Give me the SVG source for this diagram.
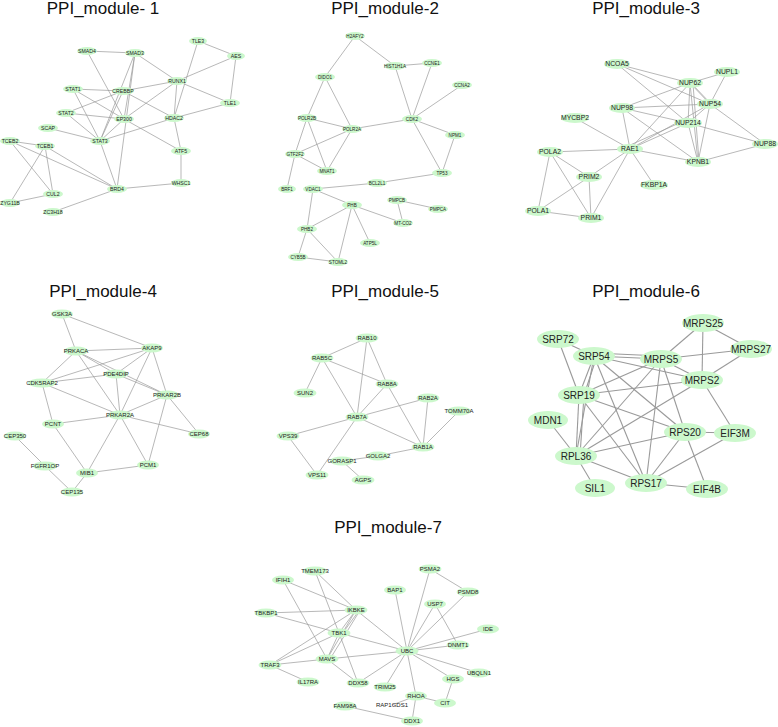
<svg xmlns="http://www.w3.org/2000/svg" width="778" height="727" viewBox="0 0 778 727">
<style>
.bg{fill:#fff}
.title{font-family:"Liberation Sans",Arial,sans-serif;font-size:17px;fill:#111;text-anchor:middle}
.edges line{stroke:#9a9a9a;stroke-width:0.7}
.e6 line{stroke-width:1.1}
ellipse{fill:#ccf8cc}
text.l{font-family:"Liberation Sans",Arial,sans-serif;fill:#222;text-anchor:middle}
.m1 text.l{font-size:5.2px}
.m2 text.l{font-size:4.6px}
.m3 text.l{font-size:6.8px}
.m4 text.l{font-size:6px}
.m5 text.l{font-size:6px}
.m6 text.l{font-size:10px}
.m7 text.l{font-size:6px}
</style>
<rect class="bg" x="0" y="0" width="778" height="727"/>
<text class="title" x="103" y="14">PPI_module- 1</text>
<text class="title" x="385" y="14">PPI_module-2</text>
<text class="title" x="646" y="14">PPI_module-3</text>
<text class="title" x="103" y="297">PPI_module-4</text>
<text class="title" x="385" y="297">PPI_module-5</text>
<text class="title" x="646" y="297">PPI_module-6</text>
<text class="title" x="388" y="533">PPI_module-7</text>

<g id="connectors" class="edges">
<g id="edges-m1">
<line x1="87" y1="51" x2="135" y2="53"/>
<line x1="87" y1="51" x2="124" y2="119"/>
<line x1="135" y1="53" x2="177" y2="81"/>
<line x1="135" y1="53" x2="100" y2="141"/>
<line x1="135" y1="53" x2="124" y2="119"/>
<line x1="135" y1="53" x2="117" y2="189"/>
<line x1="73" y1="89" x2="123" y2="91"/>
<line x1="73" y1="89" x2="124" y2="119"/>
<line x1="73" y1="89" x2="100" y2="141"/>
<line x1="66" y1="113" x2="123" y2="91"/>
<line x1="66" y1="113" x2="124" y2="119"/>
<line x1="66" y1="113" x2="100" y2="141"/>
<line x1="48" y1="128" x2="100" y2="141"/>
<line x1="123" y1="91" x2="100" y2="141"/>
<line x1="123" y1="91" x2="174" y2="118"/>
<line x1="123" y1="91" x2="177" y2="81"/>
<line x1="124" y1="119" x2="100" y2="141"/>
<line x1="124" y1="119" x2="177" y2="81"/>
<line x1="124" y1="119" x2="181" y2="151"/>
<line x1="177" y1="81" x2="230" y2="103"/>
<line x1="177" y1="81" x2="236" y2="56"/>
<line x1="177" y1="81" x2="174" y2="118"/>
<line x1="198" y1="41" x2="236" y2="56"/>
<line x1="198" y1="41" x2="174" y2="118"/>
<line x1="236" y1="56" x2="230" y2="103"/>
<line x1="230" y1="103" x2="174" y2="118"/>
<line x1="174" y1="118" x2="100" y2="141"/>
<line x1="174" y1="118" x2="181" y2="151"/>
<line x1="181" y1="151" x2="181" y2="183"/>
<line x1="181" y1="183" x2="117" y2="189"/>
<line x1="117" y1="189" x2="100" y2="141"/>
<line x1="117" y1="189" x2="45" y2="146"/>
<line x1="117" y1="189" x2="10" y2="141"/>
<line x1="117" y1="189" x2="53" y2="212"/>
<line x1="10" y1="141" x2="45" y2="146"/>
<line x1="10" y1="141" x2="53" y2="194"/>
<line x1="45" y1="146" x2="53" y2="194"/>
<line x1="45" y1="146" x2="10" y2="203"/>
<line x1="10" y1="203" x2="53" y2="194"/>
</g>
<g id="edges-m2">
<line x1="355" y1="36" x2="325" y2="77"/>
<line x1="355" y1="36" x2="395" y2="66"/>
<line x1="395" y1="66" x2="432" y2="63"/>
<line x1="395" y1="66" x2="412" y2="119"/>
<line x1="432" y1="63" x2="412" y2="119"/>
<line x1="462" y1="85" x2="412" y2="119"/>
<line x1="412" y1="119" x2="352" y2="129"/>
<line x1="412" y1="119" x2="455" y2="135"/>
<line x1="412" y1="119" x2="442" y2="173"/>
<line x1="455" y1="135" x2="442" y2="173"/>
<line x1="442" y1="173" x2="377" y2="183"/>
<line x1="377" y1="183" x2="313" y2="189"/>
<line x1="325" y1="77" x2="307" y2="118"/>
<line x1="325" y1="77" x2="352" y2="129"/>
<line x1="307" y1="118" x2="352" y2="129"/>
<line x1="307" y1="118" x2="295" y2="154"/>
<line x1="307" y1="118" x2="327" y2="171"/>
<line x1="352" y1="129" x2="295" y2="154"/>
<line x1="352" y1="129" x2="327" y2="171"/>
<line x1="295" y1="154" x2="327" y2="171"/>
<line x1="295" y1="154" x2="287" y2="189"/>
<line x1="313" y1="189" x2="352" y2="205"/>
<line x1="313" y1="189" x2="307" y2="229"/>
<line x1="352" y1="205" x2="307" y2="229"/>
<line x1="352" y1="205" x2="403" y2="223"/>
<line x1="352" y1="205" x2="370" y2="243"/>
<line x1="352" y1="205" x2="338" y2="262"/>
<line x1="307" y1="229" x2="338" y2="262"/>
<line x1="307" y1="229" x2="298" y2="257"/>
<line x1="298" y1="257" x2="338" y2="262"/>
<line x1="397" y1="200" x2="438" y2="209"/>
<line x1="397" y1="200" x2="403" y2="223"/>
</g>
<g id="edges-m3">
<line x1="617" y1="64" x2="690" y2="83"/>
<line x1="617" y1="64" x2="710" y2="104"/>
<line x1="617" y1="64" x2="688" y2="123"/>
<line x1="727" y1="72" x2="690" y2="83"/>
<line x1="727" y1="72" x2="710" y2="104"/>
<line x1="690" y1="83" x2="710" y2="104"/>
<line x1="692" y1="84" x2="712" y2="105"/>
<line x1="690" y1="83" x2="622" y2="108"/>
<line x1="690" y1="83" x2="688" y2="123"/>
<line x1="690" y1="83" x2="698" y2="162"/>
<line x1="693" y1="84" x2="699" y2="161"/>
<line x1="690" y1="83" x2="630" y2="149"/>
<line x1="622" y1="108" x2="710" y2="104"/>
<line x1="622" y1="108" x2="688" y2="123"/>
<line x1="622" y1="108" x2="630" y2="149"/>
<line x1="622" y1="108" x2="698" y2="162"/>
<line x1="710" y1="104" x2="688" y2="123"/>
<line x1="710" y1="104" x2="698" y2="162"/>
<line x1="710" y1="104" x2="765" y2="144"/>
<line x1="710" y1="104" x2="630" y2="149"/>
<line x1="688" y1="123" x2="630" y2="149"/>
<line x1="686" y1="120" x2="628" y2="146"/>
<line x1="688" y1="123" x2="765" y2="144"/>
<line x1="688" y1="123" x2="698" y2="162"/>
<line x1="630" y1="149" x2="698" y2="162"/>
<line x1="765" y1="144" x2="698" y2="162"/>
<line x1="630" y1="149" x2="575" y2="118"/>
<line x1="630" y1="149" x2="550" y2="152"/>
<line x1="630" y1="149" x2="589" y2="177"/>
<line x1="630" y1="149" x2="591" y2="218"/>
<line x1="630" y1="149" x2="654" y2="185"/>
<line x1="550" y1="152" x2="589" y2="177"/>
<line x1="550" y1="152" x2="591" y2="218"/>
<line x1="550" y1="152" x2="538" y2="211"/>
<line x1="538" y1="211" x2="589" y2="177"/>
<line x1="538" y1="211" x2="591" y2="218"/>
<line x1="589" y1="177" x2="591" y2="218"/>
</g>
<g id="edges-m4">
<line x1="62" y1="314" x2="76" y2="351"/>
<line x1="62" y1="314" x2="152" y2="348"/>
<line x1="76" y1="351" x2="152" y2="348"/>
<line x1="76" y1="351" x2="42" y2="383"/>
<line x1="76" y1="351" x2="116" y2="374"/>
<line x1="76" y1="351" x2="167" y2="395"/>
<line x1="76" y1="351" x2="120" y2="415"/>
<line x1="152" y1="348" x2="42" y2="383"/>
<line x1="152" y1="348" x2="116" y2="374"/>
<line x1="152" y1="348" x2="167" y2="395"/>
<line x1="152" y1="348" x2="120" y2="415"/>
<line x1="42" y1="383" x2="116" y2="374"/>
<line x1="42" y1="383" x2="120" y2="415"/>
<line x1="42" y1="383" x2="53" y2="424"/>
<line x1="116" y1="374" x2="120" y2="415"/>
<line x1="116" y1="374" x2="167" y2="395"/>
<line x1="167" y1="395" x2="120" y2="415"/>
<line x1="167" y1="395" x2="199" y2="434"/>
<line x1="167" y1="395" x2="148" y2="465"/>
<line x1="120" y1="415" x2="53" y2="424"/>
<line x1="120" y1="415" x2="199" y2="434"/>
<line x1="120" y1="415" x2="87" y2="473"/>
<line x1="120" y1="415" x2="148" y2="465"/>
<line x1="53" y1="424" x2="87" y2="473"/>
<line x1="87" y1="473" x2="148" y2="465"/>
<line x1="87" y1="473" x2="72" y2="492"/>
<line x1="15" y1="436" x2="45" y2="466"/>
<line x1="45" y1="466" x2="72" y2="492"/>
</g>
<g id="edges-m5">
<line x1="367" y1="338" x2="322" y2="358"/>
<line x1="367" y1="338" x2="357" y2="417"/>
<line x1="367" y1="338" x2="387" y2="384"/>
<line x1="322" y1="358" x2="387" y2="384"/>
<line x1="322" y1="358" x2="357" y2="417"/>
<line x1="322" y1="358" x2="305" y2="393"/>
<line x1="387" y1="384" x2="357" y2="417"/>
<line x1="387" y1="384" x2="423" y2="447"/>
<line x1="357" y1="417" x2="428" y2="398"/>
<line x1="357" y1="417" x2="423" y2="447"/>
<line x1="357" y1="417" x2="288" y2="436"/>
<line x1="357" y1="417" x2="317" y2="475"/>
<line x1="428" y1="398" x2="423" y2="447"/>
<line x1="459" y1="411" x2="423" y2="447"/>
<line x1="423" y1="447" x2="378" y2="456"/>
<line x1="378" y1="456" x2="342" y2="461"/>
<line x1="342" y1="461" x2="363" y2="480"/>
<line x1="288" y1="436" x2="317" y2="475"/>
</g>
<g id="edges-m6" class="e6">
<line x1="703" y1="323" x2="661" y2="359"/>
<line x1="703" y1="323" x2="751" y2="349"/>
<line x1="703" y1="323" x2="702" y2="380"/>
<line x1="751" y1="349" x2="661" y2="359"/>
<line x1="751" y1="349" x2="702" y2="380"/>
<line x1="558" y1="339" x2="594" y2="356"/>
<line x1="558" y1="339" x2="579" y2="395"/>
<line x1="594" y1="356" x2="661" y2="359"/>
<line x1="594" y1="353" x2="661" y2="356"/>
<line x1="594" y1="356" x2="702" y2="380"/>
<line x1="594" y1="356" x2="579" y2="395"/>
<line x1="597" y1="356" x2="584" y2="395"/>
<line x1="594" y1="356" x2="576" y2="456"/>
<line x1="594" y1="356" x2="646" y2="483"/>
<line x1="594" y1="356" x2="685" y2="432"/>
<line x1="661" y1="359" x2="579" y2="395"/>
<line x1="661" y1="359" x2="702" y2="380"/>
<line x1="661" y1="359" x2="576" y2="456"/>
<line x1="661" y1="359" x2="685" y2="432"/>
<line x1="661" y1="359" x2="646" y2="483"/>
<line x1="702" y1="380" x2="579" y2="395"/>
<line x1="702" y1="380" x2="576" y2="456"/>
<line x1="702" y1="380" x2="735" y2="433"/>
<line x1="579" y1="395" x2="576" y2="456"/>
<line x1="584" y1="395" x2="580" y2="456"/>
<line x1="579" y1="395" x2="685" y2="432"/>
<line x1="579" y1="395" x2="646" y2="483"/>
<line x1="548" y1="420" x2="576" y2="456"/>
<line x1="685" y1="432" x2="735" y2="433"/>
<line x1="685" y1="432" x2="576" y2="456"/>
<line x1="685" y1="432" x2="646" y2="483"/>
<line x1="685" y1="432" x2="707" y2="489"/>
<line x1="735" y1="433" x2="646" y2="483"/>
<line x1="576" y1="456" x2="646" y2="483"/>
<line x1="576" y1="456" x2="595" y2="488"/>
<line x1="646" y1="483" x2="707" y2="489"/>
</g>
<g id="edges-m7">
<line x1="315" y1="571" x2="356" y2="610"/>
<line x1="315" y1="571" x2="339" y2="633"/>
<line x1="283" y1="580" x2="356" y2="610"/>
<line x1="283" y1="580" x2="327" y2="659"/>
<line x1="266" y1="613" x2="356" y2="610"/>
<line x1="266" y1="613" x2="339" y2="633"/>
<line x1="356" y1="610" x2="339" y2="633"/>
<line x1="358" y1="612" x2="342" y2="634"/>
<line x1="356" y1="610" x2="327" y2="659"/>
<line x1="359" y1="612" x2="330" y2="659"/>
<line x1="356" y1="610" x2="270" y2="665"/>
<line x1="356" y1="610" x2="407" y2="651"/>
<line x1="339" y1="633" x2="327" y2="659"/>
<line x1="339" y1="633" x2="270" y2="665"/>
<line x1="339" y1="633" x2="358" y2="683"/>
<line x1="339" y1="633" x2="407" y2="651"/>
<line x1="270" y1="665" x2="327" y2="659"/>
<line x1="270" y1="665" x2="308" y2="682"/>
<line x1="327" y1="659" x2="407" y2="651"/>
<line x1="327" y1="659" x2="358" y2="683"/>
<line x1="358" y1="683" x2="407" y2="651"/>
<line x1="385" y1="687" x2="407" y2="651"/>
<line x1="407" y1="651" x2="416" y2="696"/>
<line x1="416" y1="696" x2="412" y2="721"/>
<line x1="392" y1="705" x2="416" y2="696"/>
<line x1="416" y1="696" x2="445" y2="703"/>
<line x1="445" y1="703" x2="453" y2="679"/>
<line x1="453" y1="679" x2="407" y2="651"/>
<line x1="479" y1="673" x2="407" y2="651"/>
<line x1="407" y1="651" x2="488" y2="629"/>
<line x1="407" y1="651" x2="458" y2="645"/>
<line x1="407" y1="651" x2="435" y2="604"/>
<line x1="407" y1="651" x2="430" y2="569"/>
<line x1="407" y1="651" x2="468" y2="592"/>
<line x1="407" y1="651" x2="395" y2="590"/>
<line x1="430" y1="569" x2="468" y2="592"/>
<line x1="435" y1="604" x2="458" y2="645"/>
<line x1="345" y1="706" x2="412" y2="721"/>
</g>
</g>

<g id="module-1" class="m1">
<g id="n-SMAD4"><ellipse cx="87" cy="51" rx="10" ry="4"/><text class="l" x="87" y="52.8">SMAD4</text></g>
<g id="n-SMAD3"><ellipse cx="135" cy="53" rx="10" ry="4"/><text class="l" x="135" y="54.8">SMAD3</text></g>
<g id="n-TLE3"><ellipse cx="198" cy="41" rx="9" ry="4"/><text class="l" x="198" y="42.8">TLE3</text></g>
<g id="n-AES"><ellipse cx="236" cy="56" rx="9" ry="4"/><text class="l" x="236" y="57.8">AES</text></g>
<g id="n-RUNX1"><ellipse cx="177" cy="81" rx="10" ry="4"/><text class="l" x="177" y="82.8">RUNX1</text></g>
<g id="n-STAT1"><ellipse cx="73" cy="89" rx="10" ry="4"/><text class="l" x="73" y="90.8">STAT1</text></g>
<g id="n-CREBBP"><ellipse cx="123" cy="91" rx="11" ry="4"/><text class="l" x="123" y="92.8">CREBBP</text></g>
<g id="n-TLE1"><ellipse cx="230" cy="103" rx="10" ry="4"/><text class="l" x="230" y="104.8">TLE1</text></g>
<g id="n-STAT2"><ellipse cx="66" cy="113" rx="10" ry="4"/><text class="l" x="66" y="114.8">STAT2</text></g>
<g id="n-EP300"><ellipse cx="124" cy="119" rx="10" ry="4"/><text class="l" x="124" y="120.8">EP300</text></g>
<g id="n-HDAC2"><ellipse cx="174" cy="118" rx="10" ry="4"/><text class="l" x="174" y="119.8">HDAC2</text></g>
<g id="n-SCAP"><ellipse cx="48" cy="128" rx="10" ry="4"/><text class="l" x="48" y="129.8">SCAP</text></g>
<g id="n-TCEB2"><ellipse cx="10" cy="141" rx="10" ry="4"/><text class="l" x="10" y="142.8">TCEB2</text></g>
<g id="n-TCEB1"><ellipse cx="45" cy="146" rx="10" ry="4"/><text class="l" x="45" y="147.8">TCEB1</text></g>
<g id="n-STAT3"><ellipse cx="100" cy="141" rx="10" ry="4"/><text class="l" x="100" y="142.8">STAT3</text></g>
<g id="n-ATF5"><ellipse cx="181" cy="151" rx="10" ry="4"/><text class="l" x="181" y="152.8">ATF5</text></g>
<g id="n-WHSC1"><ellipse cx="181" cy="183" rx="10" ry="4"/><text class="l" x="181" y="184.8">WHSC1</text></g>
<g id="n-BRD4"><ellipse cx="117" cy="189" rx="10" ry="4"/><text class="l" x="117" y="190.8">BRD4</text></g>
<g id="n-CUL2"><ellipse cx="53" cy="194" rx="10" ry="4"/><text class="l" x="53" y="195.8">CUL2</text></g>
<g id="n-ZYG11B"><ellipse cx="10" cy="203" rx="10" ry="4"/><text class="l" x="10" y="204.8">ZYG11B</text></g>
<g id="n-ZC3H18"><ellipse cx="53" cy="212" rx="10" ry="4"/><text class="l" x="53" y="213.8">ZC3H18</text></g>
</g>

<g id="module-2" class="m2">
<g id="n-H2AFY2"><ellipse cx="355" cy="36" rx="10" ry="4"/><text class="l" x="355" y="37.6">H2AFY2</text></g>
<g id="n-HIST1H1A"><ellipse cx="395" cy="66" rx="11" ry="4"/><text class="l" x="395" y="67.6">HIST1H1A</text></g>
<g id="n-CCNE1"><ellipse cx="432" cy="63" rx="10" ry="4"/><text class="l" x="432" y="64.6">CCNE1</text></g>
<g id="n-DIDO1"><ellipse cx="325" cy="77" rx="10" ry="4"/><text class="l" x="325" y="78.6">DIDO1</text></g>
<g id="n-CCNA2"><ellipse cx="462" cy="85" rx="10" ry="4"/><text class="l" x="462" y="86.6">CCNA2</text></g>
<g id="n-POLR2B"><ellipse cx="307" cy="118" rx="10" ry="4"/><text class="l" x="307" y="119.6">POLR2B</text></g>
<g id="n-CDK2"><ellipse cx="412" cy="119" rx="10" ry="4"/><text class="l" x="412" y="120.6">CDK2</text></g>
<g id="n-POLR2A"><ellipse cx="352" cy="129" rx="10" ry="4"/><text class="l" x="352" y="130.6">POLR2A</text></g>
<g id="n-NPM1"><ellipse cx="455" cy="135" rx="10" ry="4"/><text class="l" x="455" y="136.6">NPM1</text></g>
<g id="n-GTF2F2"><ellipse cx="295" cy="154" rx="10" ry="4"/><text class="l" x="295" y="155.6">GTF2F2</text></g>
<g id="n-MNAT1"><ellipse cx="327" cy="171" rx="10" ry="4"/><text class="l" x="327" y="172.6">MNAT1</text></g>
<g id="n-TP53"><ellipse cx="442" cy="173" rx="10" ry="4"/><text class="l" x="442" y="174.6">TP53</text></g>
<g id="n-BCL2L1"><ellipse cx="377" cy="183" rx="10" ry="4"/><text class="l" x="377" y="184.6">BCL2L1</text></g>
<g id="n-BRF1"><ellipse cx="287" cy="189" rx="9" ry="4"/><text class="l" x="287" y="190.6">BRF1</text></g>
<g id="n-VDAC1"><ellipse cx="313" cy="189" rx="10" ry="4"/><text class="l" x="313" y="190.6">VDAC1</text></g>
<g id="n-PHB"><ellipse cx="352" cy="205" rx="10" ry="4"/><text class="l" x="352" y="206.6">PHB</text></g>
<g id="n-PMPCB"><ellipse cx="397" cy="200" rx="10" ry="4"/><text class="l" x="397" y="201.6">PMPCB</text></g>
<g id="n-PMPCA"><ellipse cx="438" cy="209" rx="10" ry="4"/><text class="l" x="438" y="210.6">PMPCA</text></g>
<g id="n-MT-CO2"><ellipse cx="403" cy="223" rx="10" ry="4"/><text class="l" x="403" y="224.6">MT-CO2</text></g>
<g id="n-PHB2"><ellipse cx="307" cy="229" rx="10" ry="4"/><text class="l" x="307" y="230.6">PHB2</text></g>
<g id="n-ATP5L"><ellipse cx="370" cy="243" rx="10" ry="4"/><text class="l" x="370" y="244.6">ATP5L</text></g>
<g id="n-CYB5B"><ellipse cx="298" cy="257" rx="10" ry="4"/><text class="l" x="298" y="258.6">CYB5B</text></g>
<g id="n-STOML2"><ellipse cx="338" cy="262" rx="10" ry="4"/><text class="l" x="338" y="263.6">STOML2</text></g>
</g>

<g id="module-3" class="m3">
<g id="n-NCOA5"><ellipse cx="617" cy="64" rx="13" ry="5"/><text class="l" x="617" y="66.4">NCOA5</text></g>
<g id="n-NUPL1"><ellipse cx="727" cy="72" rx="13" ry="5"/><text class="l" x="727" y="74.4">NUPL1</text></g>
<g id="n-NUP62"><ellipse cx="690" cy="83" rx="13" ry="5"/><text class="l" x="690" y="85.4">NUP62</text></g>
<g id="n-NUP98"><ellipse cx="622" cy="108" rx="13" ry="5"/><text class="l" x="622" y="110.4">NUP98</text></g>
<g id="n-NUP54"><ellipse cx="710" cy="104" rx="13" ry="5"/><text class="l" x="710" y="106.4">NUP54</text></g>
<g id="n-MYCBP2"><ellipse cx="575" cy="118" rx="14" ry="5"/><text class="l" x="575" y="120.4">MYCBP2</text></g>
<g id="n-NUP214"><ellipse cx="688" cy="123" rx="14" ry="5"/><text class="l" x="688" y="125.4">NUP214</text></g>
<g id="n-NUP88"><ellipse cx="765" cy="144" rx="13" ry="5"/><text class="l" x="765" y="146.4">NUP88</text></g>
<g id="n-POLA2"><ellipse cx="550" cy="152" rx="13" ry="5"/><text class="l" x="550" y="154.4">POLA2</text></g>
<g id="n-RAE1"><ellipse cx="630" cy="149" rx="13" ry="5"/><text class="l" x="630" y="151.4">RAE1</text></g>
<g id="n-KPNB1"><ellipse cx="698" cy="162" rx="13" ry="5"/><text class="l" x="698" y="164.4">KPNB1</text></g>
<g id="n-PRIM2"><ellipse cx="589" cy="177" rx="13" ry="5"/><text class="l" x="589" y="179.4">PRIM2</text></g>
<g id="n-FKBP1A"><ellipse cx="654" cy="185" rx="14" ry="5"/><text class="l" x="654" y="187.4">FKBP1A</text></g>
<g id="n-POLA1"><ellipse cx="538" cy="211" rx="13" ry="5"/><text class="l" x="538" y="213.4">POLA1</text></g>
<g id="n-PRIM1"><ellipse cx="591" cy="218" rx="13" ry="5"/><text class="l" x="591" y="220.4">PRIM1</text></g>
</g>

<g id="module-4" class="m4">
<g id="n-GSK3A"><ellipse cx="62" cy="314" rx="11" ry="4.5"/><text class="l" x="62" y="316.1">GSK3A</text></g>
<g id="n-PRKACA"><ellipse cx="76" cy="351" rx="12" ry="4.5"/><text class="l" x="76" y="353.1">PRKACA</text></g>
<g id="n-AKAP9"><ellipse cx="152" cy="348" rx="11" ry="4.5"/><text class="l" x="152" y="350.1">AKAP9</text></g>
<g id="n-PDE4DIP"><ellipse cx="116" cy="374" rx="12" ry="4.5"/><text class="l" x="116" y="376.1">PDE4DIP</text></g>
<g id="n-CDK5RAP2"><ellipse cx="42" cy="383" rx="14" ry="4.5"/><text class="l" x="42" y="385.1">CDK5RAP2</text></g>
<g id="n-PRKAR2B"><ellipse cx="167" cy="395" rx="12" ry="4.5"/><text class="l" x="167" y="397.1">PRKAR2B</text></g>
<g id="n-PRKAR2A"><ellipse cx="120" cy="415" rx="12" ry="4.5"/><text class="l" x="120" y="417.1">PRKAR2A</text></g>
<g id="n-PCNT"><ellipse cx="53" cy="424" rx="11" ry="4.5"/><text class="l" x="53" y="426.1">PCNT</text></g>
<g id="n-CEP68"><ellipse cx="199" cy="434" rx="11" ry="4.5"/><text class="l" x="199" y="436.1">CEP68</text></g>
<g id="n-CEP350"><ellipse cx="15" cy="436" rx="11" ry="4.5"/><text class="l" x="15" y="438.1">CEP350</text></g>
<g id="n-FGFR1OP"><ellipse cx="45" cy="466" rx="12" ry="4.5"/><text class="l" x="45" y="468.1">FGFR1OP</text></g>
<g id="n-PCM1"><ellipse cx="148" cy="465" rx="11" ry="4.5"/><text class="l" x="148" y="467.1">PCM1</text></g>
<g id="n-MIB1"><ellipse cx="87" cy="473" rx="11" ry="4.5"/><text class="l" x="87" y="475.1">MIB1</text></g>
<g id="n-CEP135"><ellipse cx="72" cy="492" rx="11" ry="4.5"/><text class="l" x="72" y="494.1">CEP135</text></g>
</g>

<g id="module-5" class="m5">
<g id="n-RAB10"><ellipse cx="367" cy="338" rx="11.5" ry="4.5"/><text class="l" x="367" y="340.1">RAB10</text></g>
<g id="n-RAB5C"><ellipse cx="322" cy="358" rx="11.5" ry="4.5"/><text class="l" x="322" y="360.1">RAB5C</text></g>
<g id="n-RAB8A"><ellipse cx="387" cy="384" rx="11.5" ry="4.5"/><text class="l" x="387" y="386.1">RAB8A</text></g>
<g id="n-SUN2"><ellipse cx="305" cy="393" rx="11.5" ry="4.5"/><text class="l" x="305" y="395.1">SUN2</text></g>
<g id="n-RAB2A"><ellipse cx="428" cy="398" rx="11.5" ry="4.5"/><text class="l" x="428" y="400.1">RAB2A</text></g>
<g id="n-TOMM70A"><ellipse cx="459" cy="411" rx="12" ry="4.5"/><text class="l" x="459" y="413.1">TOMM70A</text></g>
<g id="n-RAB7A"><ellipse cx="357" cy="417" rx="11.5" ry="4.5"/><text class="l" x="357" y="419.1">RAB7A</text></g>
<g id="n-VPS39"><ellipse cx="288" cy="436" rx="11.5" ry="4.5"/><text class="l" x="288" y="438.1">VPS39</text></g>
<g id="n-RAB1A"><ellipse cx="423" cy="447" rx="11.5" ry="4.5"/><text class="l" x="423" y="449.1">RAB1A</text></g>
<g id="n-GOLGA2"><ellipse cx="378" cy="456" rx="11.5" ry="4.5"/><text class="l" x="378" y="458.1">GOLGA2</text></g>
<g id="n-GORASP1"><ellipse cx="342" cy="461" rx="12" ry="4.5"/><text class="l" x="342" y="463.1">GORASP1</text></g>
<g id="n-VPS11"><ellipse cx="317" cy="475" rx="11.5" ry="4.5"/><text class="l" x="317" y="477.1">VPS11</text></g>
<g id="n-AGPS"><ellipse cx="363" cy="480" rx="11.5" ry="4.5"/><text class="l" x="363" y="482.1">AGPS</text></g>
</g>

<g id="module-6" class="m6">
<g id="n-MRPS25"><ellipse cx="703" cy="323" rx="21" ry="9"/><text class="l" x="703" y="326.5">MRPS25</text></g>
<g id="n-SRP72"><ellipse cx="558" cy="339" rx="21" ry="9"/><text class="l" x="558" y="342.5">SRP72</text></g>
<g id="n-MRPS27"><ellipse cx="751" cy="349" rx="21" ry="9"/><text class="l" x="751" y="352.5">MRPS27</text></g>
<g id="n-SRP54"><ellipse cx="594" cy="356" rx="21" ry="9"/><text class="l" x="594" y="359.5">SRP54</text></g>
<g id="n-MRPS5"><ellipse cx="661" cy="359" rx="21" ry="9"/><text class="l" x="661" y="362.5">MRPS5</text></g>
<g id="n-MRPS2"><ellipse cx="702" cy="380" rx="21" ry="9"/><text class="l" x="702" y="383.5">MRPS2</text></g>
<g id="n-SRP19"><ellipse cx="579" cy="395" rx="21" ry="9"/><text class="l" x="579" y="398.5">SRP19</text></g>
<g id="n-MDN1"><ellipse cx="548" cy="420" rx="20" ry="9"/><text class="l" x="548" y="423.5">MDN1</text></g>
<g id="n-RPS20"><ellipse cx="685" cy="432" rx="21" ry="9"/><text class="l" x="685" y="435.5">RPS20</text></g>
<g id="n-EIF3M"><ellipse cx="735" cy="433" rx="21" ry="9"/><text class="l" x="735" y="436.5">EIF3M</text></g>
<g id="n-RPL36"><ellipse cx="576" cy="456" rx="21" ry="9"/><text class="l" x="576" y="459.5">RPL36</text></g>
<g id="n-SIL1"><ellipse cx="595" cy="488" rx="20" ry="9"/><text class="l" x="595" y="491.5">SIL1</text></g>
<g id="n-RPS17"><ellipse cx="646" cy="483" rx="21" ry="9"/><text class="l" x="646" y="486.5">RPS17</text></g>
<g id="n-EIF4B"><ellipse cx="707" cy="489" rx="21" ry="9"/><text class="l" x="707" y="492.5">EIF4B</text></g>
</g>

<g id="module-7" class="m7">
<g id="n-TMEM173"><ellipse cx="315" cy="571" rx="12" ry="4.5"/><text class="l" x="315" y="573.1">TMEM173</text></g>
<g id="n-IFIH1"><ellipse cx="283" cy="580" rx="11" ry="4.5"/><text class="l" x="283" y="582.1">IFIH1</text></g>
<g id="n-TBKBP1"><ellipse cx="266" cy="613" rx="11.5" ry="4.5"/><text class="l" x="266" y="615.1">TBKBP1</text></g>
<g id="n-IKBKE"><ellipse cx="356" cy="610" rx="11.5" ry="4.5"/><text class="l" x="356" y="612.1">IKBKE</text></g>
<g id="n-TBK1"><ellipse cx="339" cy="633" rx="11.5" ry="4.5"/><text class="l" x="339" y="635.1">TBK1</text></g>
<g id="n-TRAF3"><ellipse cx="270" cy="665" rx="11.5" ry="4.5"/><text class="l" x="270" y="667.1">TRAF3</text></g>
<g id="n-MAVS"><ellipse cx="327" cy="659" rx="11.5" ry="4.5"/><text class="l" x="327" y="661.1">MAVS</text></g>
<g id="n-IL17RA"><ellipse cx="308" cy="682" rx="11.5" ry="4.5"/><text class="l" x="308" y="684.1">IL17RA</text></g>
<g id="n-DDX58"><ellipse cx="358" cy="683" rx="11.5" ry="4.5"/><text class="l" x="358" y="685.1">DDX58</text></g>
<g id="n-FAM98A"><ellipse cx="345" cy="706" rx="11.5" ry="4.5"/><text class="l" x="345" y="708.1">FAM98A</text></g>
<g id="n-PSMA2"><ellipse cx="430" cy="569" rx="11.5" ry="4.5"/><text class="l" x="430" y="571.1">PSMA2</text></g>
<g id="n-BAP1"><ellipse cx="395" cy="590" rx="11" ry="4.5"/><text class="l" x="395" y="592.1">BAP1</text></g>
<g id="n-PSMD8"><ellipse cx="468" cy="592" rx="11.5" ry="4.5"/><text class="l" x="468" y="594.1">PSMD8</text></g>
<g id="n-USP7"><ellipse cx="435" cy="604" rx="11" ry="4.5"/><text class="l" x="435" y="606.1">USP7</text></g>
<g id="n-IDE"><ellipse cx="488" cy="629" rx="11" ry="4.5"/><text class="l" x="488" y="631.1">IDE</text></g>
<g id="n-DNMT1"><ellipse cx="458" cy="645" rx="11.5" ry="4.5"/><text class="l" x="458" y="647.1">DNMT1</text></g>
<g id="n-UBC"><ellipse cx="407" cy="651" rx="11.5" ry="4.5"/><text class="l" x="407" y="653.1">UBC</text></g>
<g id="n-UBQLN1"><ellipse cx="479" cy="673" rx="11.5" ry="4.5"/><text class="l" x="479" y="675.1">UBQLN1</text></g>
<g id="n-HGS"><ellipse cx="453" cy="679" rx="11" ry="4.5"/><text class="l" x="453" y="681.1">HGS</text></g>
<g id="n-TRIM25"><ellipse cx="385" cy="687" rx="11.5" ry="4.5"/><text class="l" x="385" y="689.1">TRIM25</text></g>
<g id="n-RHOA"><ellipse cx="416" cy="696" rx="11" ry="4.5"/><text class="l" x="416" y="698.1">RHOA</text></g>
<g id="n-RAP1GDS1"><text class="l" x="392" y="707.1">RAP1GDS1</text></g>
<g id="n-CIT"><ellipse cx="445" cy="703" rx="11" ry="4.5"/><text class="l" x="445" y="705.1">CIT</text></g>
<g id="n-DDX1"><ellipse cx="412" cy="721" rx="11" ry="4.5"/><text class="l" x="412" y="723.1">DDX1</text></g>
</g>
</svg>
